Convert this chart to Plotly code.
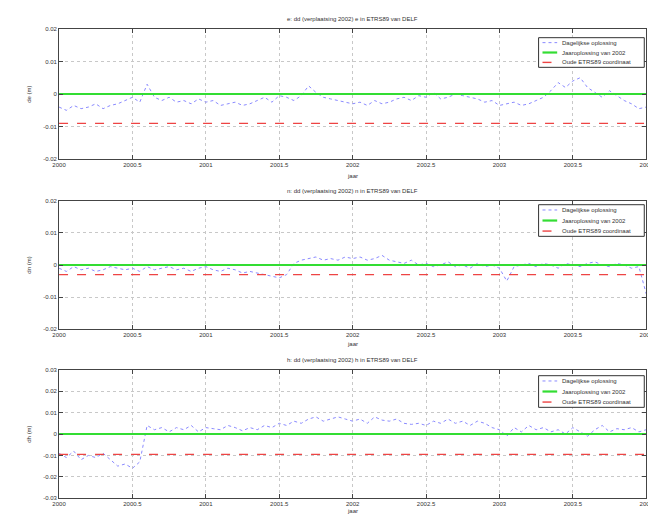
import plotly.graph_objects as go

years = [2000.00, 2000.05, 2000.10, 2000.15, 2000.20, 2000.25, 2000.30, 2000.35, 2000.40,
         2000.45, 2000.50, 2000.55, 2000.60, 2000.65, 2000.70,
         2000.75, 2000.80, 2000.85, 2000.90, 2000.95, 2001.00, 2001.05, 2001.10, 2001.15, 2001.20, 2001.25, 2001.30,
         2001.35, 2001.40, 2001.45, 2001.50, 2001.55, 2001.60, 2001.65, 2001.70, 2001.75, 2001.80, 2001.85, 2001.90, 2001.95,
         2002.00, 2002.05, 2002.10, 2002.15, 2002.20, 2002.25, 2002.30, 2002.35, 2002.40, 2002.45,
         2002.50, 2002.55, 2002.60, 2002.65, 2002.70, 2002.75, 2002.80, 2002.85, 2002.90, 2002.95,
         2003.00, 2003.05, 2003.10, 2003.15, 2003.20, 2003.25, 2003.30, 2003.35, 2003.40, 2003.45,
         2003.50, 2003.55, 2003.60, 2003.65, 2003.70, 2003.75, 2003.80, 2003.85, 2003.90, 2003.95, 2004.00]

de_daily = [-0.004, -0.005, -0.0035, -0.0045, -0.004, -0.003, -0.0045, -0.0035, -0.003,
            -0.002, -0.001, -0.0025, 0.003, -0.001, -0.002,
            -0.001, -0.0025, -0.002, -0.003, -0.0015, -0.0025, -0.002, -0.0035, -0.003, -0.0025, -0.0035, -0.003,
            -0.002, -0.001, -0.0025, -0.0005, -0.001, -0.002, -0.0005, 0.0025, 0.0005, -0.001, -0.0015, -0.002, -0.0025,
            -0.003, -0.0025, -0.0035, -0.002, -0.003, -0.0025, -0.0015, -0.001, -0.002, -0.0005,
            -0.001, 0.0005, -0.0015, -0.001, 0.0, -0.0005, -0.001, -0.0015, -0.0025, -0.002,
            -0.0035, -0.003, -0.0025, -0.0035, -0.003, -0.002, -0.001, 0.001, 0.0035, 0.002,
            0.004, 0.005, 0.002, 0.0005, -0.001, 0.001, -0.0005, -0.002, -0.003, -0.0045, -0.004]

dn_daily = [-0.001, -0.002, -0.0005, -0.0015, -0.001, -0.002, -0.0015, -0.0005, -0.001,
            -0.0015, -0.001, -0.002, -0.0005, -0.0015, -0.001,
            -0.0005, -0.0015, -0.001, -0.002, -0.001, -0.0005, -0.0015, -0.002, -0.001, -0.0015, -0.0025, -0.002,
            -0.0025, -0.003, -0.0035, -0.004, -0.003, 0.0005, 0.0015, 0.002, 0.0025, 0.0015, 0.002, 0.0015, 0.0025,
            0.002, 0.0025, 0.0015, 0.002, 0.003, 0.0015, 0.001, 0.0005, 0.0015, 0.0,
            0.0005, -0.0005, 0.0, 0.001, -0.0005, 0.0, -0.001, 0.0005, -0.0005, 0.0,
            -0.001, -0.005, -0.0005, 0.0, 0.0005, -0.0005, 0.0005, 0.0, -0.001, 0.0005,
            0.0, -0.0005, 0.0005, 0.001, 0.0, -0.0005, 0.0005, 0.0, -0.001, -0.0005, -0.009]

dh_daily = [-0.009, -0.011, -0.008, -0.012, -0.01, -0.011, -0.009, -0.012, -0.015,
            -0.014, -0.016, -0.013, 0.004, 0.002, 0.003,
            0.001, 0.003, 0.002, 0.004, 0.001, 0.003, 0.0025, 0.002, 0.004, 0.003, 0.0015, 0.003,
            0.002, 0.004, 0.003, 0.005, 0.004, 0.006, 0.005, 0.007, 0.008, 0.006, 0.007, 0.008, 0.007,
            0.006, 0.007, 0.005, 0.008, 0.0065, 0.006, 0.007, 0.005, 0.0045, 0.005,
            0.004, 0.006, 0.005, 0.007, 0.005, 0.006, 0.004, 0.006, 0.005, 0.003,
            0.002, -0.001, 0.003, 0.001, 0.004, 0.002, 0.003, 0.001, 0.002, 0.0,
            0.003, 0.001, -0.001, 0.002, 0.004, 0.001, 0.0025, 0.002, 0.003, 0.001, 0.002]

line_x = [2000.0, 2004.0]
year_solution = {"de": 0.0, "dn": 0.0, "dh": 0.0}
old_etrs = {"de": -0.009, "dn": -0.003, "dh": -0.0095}

titles = ["e: dd (verplaatsing 2002) e in ETRS89 van DELF",
          "n: dd (verplaatsing 2002) n in ETRS89 van DELF",
          "h: dd (verplaatsing 2002) h in ETRS89 van DELF"]
ylabels = ["de (m)", "dn (m)", "dh (m)"]
legend_names = ["Dagelijkse oplossing", "Jaaroplossing van 2002", "Oude ETRS89 coordinaat"]
x_ticks = [2000, 2000.5, 2001, 2001.5, 2002, 2002.5, 2003, 2003.5, 2004]
x_ticktext = ["2000", "2000.5", "2001", "2001.5", "2002", "2002.5", "2003", "2003.5", "2004"]
y_ticks_small = [-0.02, -0.01, 0, 0.01, 0.02]
y_ticktext_small = ["-0.02", "-0.01", "0", "0.01", "0.02"]
y_ticks_big = [-0.03, -0.02, -0.01, 0, 0.01, 0.02, 0.03]
y_ticktext_big = ["-0.03", "-0.02", "-0.01", "0", "0.01", "0.02", "0.03"]

W, H = 656, 515
FONT = "Liberation Sans, Arial, sans-serif"
TXT = "#333"
panels = [(18, 150), (192, 322), (363, 493)]
x_left, x_right = 45, 645
legend_boxes = [(27, 57), (196, 228), (369, 401)]
xlabel_y = [167, 337, 506]

BLUE = "#8a8aff"
GREEN = "#33dd33"
RED = "#ee4444"
styles = [dict(color=BLUE, width=1, dash="dot"),
          dict(color=GREEN, width=2.2),
          dict(color=RED, width=1.4, dash="dash")]

series = [("de", de_daily, y_ticks_small, y_ticktext_small, [-0.02, 0.02]),
          ("dn", dn_daily, y_ticks_small, y_ticktext_small, [-0.02, 0.02]),
          ("dh", dh_daily, y_ticks_big, y_ticktext_big, [-0.03, 0.03])]

fig = go.Figure()
layout = dict(width=W, height=H, margin=dict(l=0, r=0, t=0, b=0),
              paper_bgcolor="white", plot_bgcolor="white", showlegend=False,
              font=dict(family=FONT, size=6, color=TXT), annotations=[], shapes=[])


def px_x(v):
    return v / W


def px_y(v):
    return 1 - v / H


for i, (key, vals, yt, ytt, yr) in enumerate(series):
    n = i + 1
    xa = "x" if n == 1 else f"x{n}"
    ya = "y" if n == 1 else f"y{n}"
    fig.add_trace(go.Scatter(x=years, y=vals, mode="lines", name=legend_names[0],
                             line=styles[0], xaxis=xa, yaxis=ya))
    fig.add_trace(go.Scatter(x=line_x, y=[year_solution[key]] * 2, mode="lines", name=legend_names[1],
                             line=styles[1], xaxis=xa, yaxis=ya))
    fig.add_trace(go.Scatter(x=line_x, y=[old_etrs[key]] * 2, mode="lines", name=legend_names[2],
                             line=styles[2], xaxis=xa, yaxis=ya))
    top, bot = panels[i]
    axcommon = dict(showline=True, linecolor="#444", linewidth=1, mirror="ticks",
                    ticks="inside", ticklen=4, tickcolor="#444",
                    showgrid=True, gridcolor="#c8c8c8", griddash="dot", gridwidth=1,
                    zeroline=False, tickfont=dict(size=6, family=FONT, color=TXT))
    layout["xaxis" if n == 1 else f"xaxis{n}"] = dict(
        axcommon, domain=[px_x(x_left), px_x(x_right)], range=[2000, 2004],
        tickvals=x_ticks, ticktext=x_ticktext, anchor=ya)
    layout["yaxis" if n == 1 else f"yaxis{n}"] = dict(
        axcommon, domain=[px_y(bot), px_y(top)], range=yr,
        tickvals=yt, ticktext=ytt, anchor=xa)
    cx = px_x((x_left + x_right) / 2)
    layout["annotations"].append(dict(text=titles[i], x=cx, y=px_y(top - 10), xref="paper", yref="paper",
                                      showarrow=False, xanchor="center", yanchor="middle",
                                      font=dict(size=6, family=FONT, color=TXT)))
    layout["annotations"].append(dict(text="jaar", x=cx, y=px_y(xlabel_y[i]), xref="paper", yref="paper",
                                      showarrow=False, xanchor="center", yanchor="middle",
                                      font=dict(size=6, family=FONT, color=TXT)))
    layout["annotations"].append(dict(text=ylabels[i], x=px_x(14), y=px_y((top + bot) / 2), xref="paper",
                                      yref="paper", showarrow=False, xanchor="center", yanchor="middle",
                                      textangle=-90, font=dict(size=6, family=FONT, color=TXT)))
    # legend box drawn by hand (compact, like the MATLAB legend)
    lt, lb = legend_boxes[i]
    lx0, lx1 = 535, 643
    layout["shapes"].append(dict(type="rect", xref="paper", yref="paper",
                                 x0=px_x(lx0), x1=px_x(lx1), y0=px_y(lb), y1=px_y(lt),
                                 line=dict(color="#333", width=1), fillcolor="white", layer="above"))
    step = (lb - lt) / 3
    for k in range(3):
        yy = lt + step * (k + 0.5)
        st = styles[k]
        layout["shapes"].append(dict(type="line", xref="paper", yref="paper",
                                     x0=px_x(539), x1=px_x(554), y0=px_y(yy), y1=px_y(yy),
                                     line=dict(color=st["color"], width=st["width"], dash=st.get("dash", "solid")),
                                     layer="above"))
        layout["annotations"].append(dict(text=legend_names[k], x=px_x(557), y=px_y(yy), xref="paper",
                                          yref="paper", showarrow=False, xanchor="left", yanchor="middle",
                                          font=dict(size=6, family=FONT, color=TXT)))

fig.update_layout(**layout)
fig.write_html("out.html")
